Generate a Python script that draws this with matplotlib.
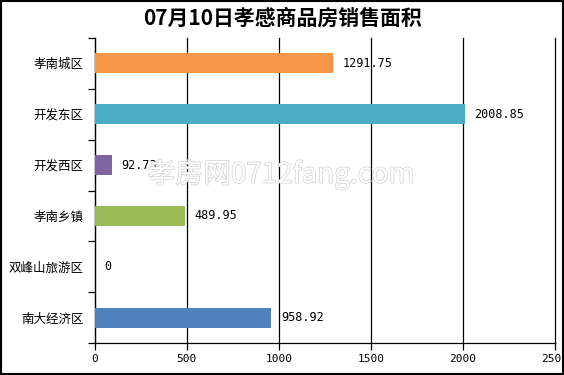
import matplotlib
matplotlib.use("Agg")
import matplotlib.pyplot as plt
import matplotlib.patheffects as pe
from matplotlib.patches import Rectangle
import numpy as np

plt.rcParams['font.family'] = ['Noto Sans CJK SC', 'DejaVu Sans']

categories = ['孝南城区', '开发东区', '开发西区', '孝南乡镇', '双峰山旅游区', '南大经济区']
values = [1291.75, 2008.85, 92.73, 489.95, 0, 958.92]
labels = ['1291.75', '2008.85', '92.73', '489.95', '0', '958.92']
colors = ['#F79646', '#4BACC6', '#8064A2', '#9BBB59', '#4F81BD', '#4F81BD']
xticks = [0, 500, 1000, 1500, 2000, 2500]
title = '07月10日孝感商品房销售面积'

fig = plt.figure(figsize=(5.64, 3.75), dpi=100)
ax = fig.add_axes([0.168, 0.085, 0.816, 0.814])

y = np.arange(len(categories))
ax.barh(y, values, height=0.4, color=colors, zorder=3)
ax.set_ylim(len(categories) - 0.5, -0.5)
ax.set_xlim(0, 2500)

ax.set_xticks(xticks)
ax.set_xticklabels([str(t) for t in xticks], family='DejaVu Sans Mono', fontsize=8)
ax.xaxis.grid(True, color='black', linewidth=0.9, zorder=0)
for gl in ax.get_xgridlines():
    gl.set_clip_on(False)
ax.tick_params(axis='x', direction='out', length=5, width=0.9, pad=3)

ax.set_yticks(y)
ax.set_yticklabels(categories, fontsize=9)
ax.set_yticks(np.arange(len(categories) + 1) - 0.5, minor=True)
ax.tick_params(axis='y', which='major', length=0, pad=8)
ax.tick_params(axis='y', which='minor', length=5, width=0.9, direction='out')

for s in ['top', 'right']:
    ax.spines[s].set_visible(False)
for s in ['left', 'bottom']:
    ax.spines[s].set_linewidth(0.9)

for yi, v, lab in zip(y, values, labels):
    ax.annotate(lab, (v, yi), xytext=(7, 0), textcoords='offset points',
                va='center', ha='left', fontsize=8.5, family='DejaVu Sans Mono', zorder=5)

fig.text(0.5, 0.952, title, ha='center', va='center', fontsize=15, fontweight='bold')

wm = fig.text(0.498, 0.535, '孝房网0712fang.com', ha='center', va='center', fontsize=20,
              color='white', zorder=10)
wm.set_path_effects([pe.Stroke(linewidth=1.0, foreground='#d0d0d0'), pe.Normal()])

fig.patches.append(Rectangle((0.001, 0.004), 0.997, 0.994, transform=fig.transFigure,
                             fill=False, edgecolor='black', linewidth=1.5))

fig.savefig('out.png', dpi=100)
